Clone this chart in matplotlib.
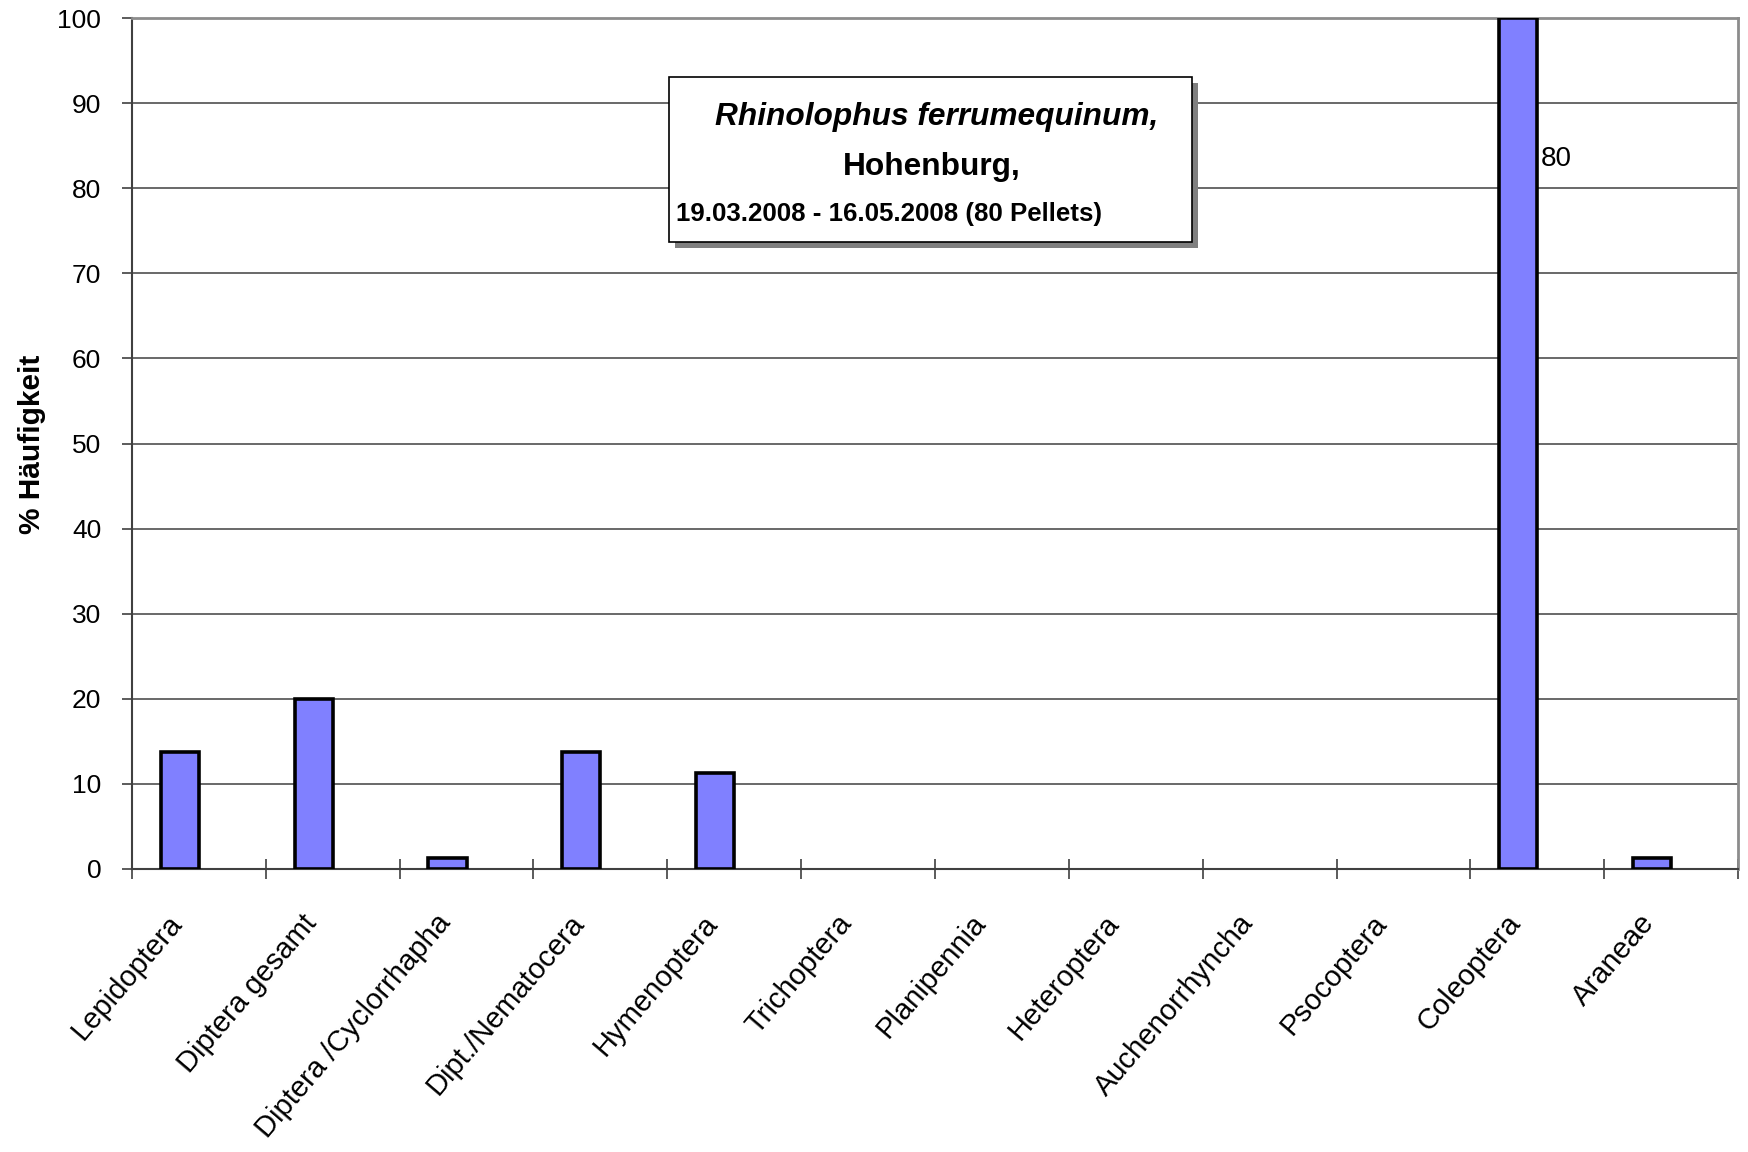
import numpy as np
import matplotlib
matplotlib.use("Agg")
import matplotlib.pyplot as plt
from matplotlib.patches import Rectangle
from matplotlib.transforms import ScaledTranslation

# Prey categories found in the pellets
categories = ["Lepidoptera", "Diptera gesamt", "Diptera /Cyclorrhapha",
              "Dipt./Nematocera", "Hymenoptera", "Trichoptera", "Planipennia",
              "Heteroptera", "Auchenorrhyncha", "Psocoptera", "Coleoptera",
              "Araneae"]
# Number of pellets in which each category occurred
pellet_counts = [11, 16, 1, 11, 9, 0, 0, 0, 0, 0, 80, 1]
n_pellets = 80
# Second series: absolute count shown as label only (no fill)
count_series = [0, 0, 0, 0, 0, 0, 0, 0, 0, 0, 80, 0]
y_ticks = [0, 10, 20, 30, 40, 50, 60, 70, 80, 90, 100]

percent = [c / n_pellets * 100 for c in pellet_counts]

plt.rcParams["font.family"] = ["Liberation Sans", "DejaVu Sans"]

DPI = 100
W, H = 1749, 1152
fig = plt.figure(figsize=(W / DPI, H / DPI), dpi=DPI)
ax = fig.add_axes([132 / W, 1 - 869 / H, (1738 - 132) / W, (869 - 18) / H])

x = np.arange(len(categories))
bw = 1 / 3.5
off = bw / 2

lws = [2.6 if v > 0 else 0 for v in percent]
ax.bar(x - off, percent, width=bw, color="#8080FF", edgecolor="black",
       linewidth=lws, zorder=3)

inv = ax.bar(x + off, count_series, width=bw, fill=False, linewidth=0, zorder=3)
ax.bar_label(inv, labels=[str(v) if v > 0 else "" for v in count_series],
             padding=12, fontsize=20)
lbl_shift = ScaledTranslation(-8 / DPI, 0, fig.dpi_scale_trans)
for t in ax.texts:
    t.set_transform(t.get_transform() + lbl_shift)

ax.set_xlim(-0.5, len(categories) - 0.5)
ax.set_ylim(0, 100)
ax.set_yticks(y_ticks)
ax.tick_params(axis="y", direction="out", length=7.2, width=1.2, color="#404040",
               labelsize=19, pad=15)
ax.yaxis.grid(True, color="#404040", linewidth=1.1, zorder=0)
ax.set_axisbelow(True)

# Category boundary ticks crossing the axis, labels centered under categories
ax.set_xticks(x)
ax.set_xticks(np.arange(-0.5, len(categories)), minor=True)
ax.set_xticklabels(categories, rotation=49.5, ha="right", rotation_mode="anchor",
                   fontsize=21)
ax.tick_params(axis="x", which="major", length=0, pad=29)
ax.tick_params(axis="x", which="minor", direction="inout", length=14.4,
               width=1.2, color="#404040")
shift = ScaledTranslation(-32 / DPI, 0, fig.dpi_scale_trans)
for lbl in ax.get_xticklabels():
    lbl.set_transform(lbl.get_transform() + shift)

for side in ("left", "bottom"):
    ax.spines[side].set_color("#404040")
    ax.spines[side].set_linewidth(1.5)
for side in ("top", "right"):
    ax.spines[side].set_color("#8c8c8c")
    ax.spines[side].set_linewidth(2)

ax.set_ylabel("% Häufigkeit", fontsize=21.5, fontweight="bold")
ax.yaxis.set_label_coords(46 / W, 1 - 444 / H, transform=fig.transFigure)


def fx(px):
    return px / W


def fy(py):
    return 1 - py / H


# Title box with drop shadow
bx0, bx1, by0, by1 = 669, 1192, 77, 242
fig.patches.append(Rectangle((fx(bx0 + 6), fy(by1 + 6)), (bx1 - bx0) / W, (by1 - by0) / H,
                             transform=fig.transFigure, facecolor="#808080",
                             edgecolor="none", zorder=5))
fig.patches.append(Rectangle((fx(bx0), fy(by1)), (bx1 - bx0) / W, (by1 - by0) / H,
                             transform=fig.transFigure, facecolor="white",
                             edgecolor="black", linewidth=1.2, zorder=6))
fig.text(fx(937), fy(117), "Rhinolophus ferrumequinum,", fontsize=22.8,
         fontweight="bold", fontstyle="italic", ha="center", va="center", zorder=7)
fig.text(fx(932), fy(167), "Hohenburg,", fontsize=22.8, fontweight="bold",
         ha="center", va="center", zorder=7)
fig.text(fx(676), fy(214), "19.03.2008 - 16.05.2008 (80 Pellets)", fontsize=18.6,
         fontweight="bold", ha="left", va="center", zorder=7)

fig.savefig("out.png", dpi=DPI, facecolor="white")
